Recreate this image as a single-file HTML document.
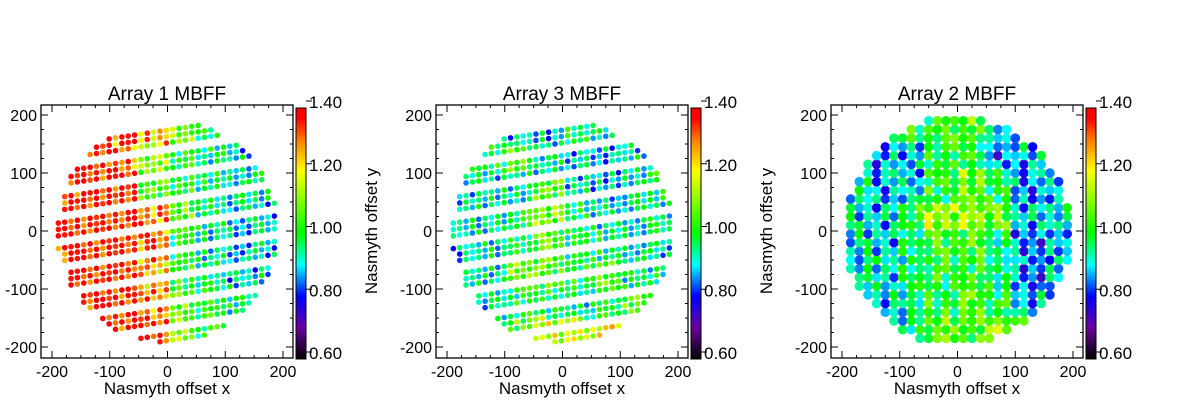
<!DOCTYPE html>
<html><head><meta charset="utf-8"><style>
body{margin:0;background:#fff;}
svg{display:block;font-family:"Liberation Sans",sans-serif;}
text{fill:#000;}
</style></head><body>
<svg id="c" width="1200" height="400" viewBox="0 0 1200 400">
<defs><linearGradient id="cb" x1="0" y1="1" x2="0" y2="0">
<stop offset="0" stop-color="#000000"/><stop offset="0.125" stop-color="#6a00a0"/>
<stop offset="0.25" stop-color="#0000ff"/><stop offset="0.375" stop-color="#00ffff"/>
<stop offset="0.5" stop-color="#00ff00"/><stop offset="0.75" stop-color="#ffff00"/>
<stop offset="0.87" stop-color="#ff8000"/><stop offset="0.96" stop-color="#ff0000"/><stop offset="1" stop-color="#ff0000"/>
</linearGradient></defs>
</svg>
<script>
// value maps: 8 rows (y 200..-200) x 8 cols (x -200..200)
const titles = ["Array 1 MBFF","Array 3 MBFF","Array 2 MBFF"];
const xTicks = [-200,-100,0,100,200];
const yTicks = [-200,-100,0,100,200];
const cbTicks = [0.6,0.8,1.0,1.2,1.4];
const map1 = [
 [1.36,1.36,1.36,1.25,1.10,0.97,0.92,0.90],
 [1.36,1.36,1.30,1.10,1.00,0.95,0.90,0.90],
 [1.36,1.36,1.36,1.05,1.00,0.95,0.92,0.95],
 [1.36,1.36,1.36,1.30,1.05,0.95,0.90,0.90],
 [1.36,1.36,1.36,1.30,1.00,0.92,0.88,0.90],
 [1.36,1.36,1.36,1.25,1.00,0.95,0.90,0.90],
 [1.36,1.36,1.36,1.30,1.05,1.00,0.95,0.92],
 [1.36,1.36,1.36,1.36,1.10,1.00,0.92,0.90]];
const map3 = [
 [0.92,0.92,0.90,0.88,0.98,0.92,0.92,0.92],
 [0.98,0.98,1.05,0.92,0.90,0.88,0.92,0.92],
 [0.92,0.92,0.92,1.05,0.92,0.88,0.92,0.98],
 [0.92,0.92,1.00,1.10,0.95,0.92,0.92,0.95],
 [0.90,0.92,0.98,1.05,0.98,0.95,0.92,0.92],
 [0.92,0.92,1.10,1.05,0.98,1.05,0.95,0.95],
 [0.92,0.92,0.98,0.98,0.92,0.98,1.05,1.00],
 [0.92,0.92,1.05,1.15,1.15,1.20,1.10,1.00]];
const map2 = [
 [0.92,0.92,1.00,1.02,1.05,0.88,0.88,0.92],
 [0.92,0.86,0.88,1.00,1.00,0.84,0.88,0.90],
 [0.92,0.88,0.90,1.00,1.08,0.98,0.86,0.88],
 [0.90,0.90,1.00,1.12,1.12,1.05,0.90,0.92],
 [0.90,0.90,0.96,1.02,1.05,0.95,0.84,0.88],
 [0.90,0.92,0.96,1.00,1.02,0.96,0.84,0.90],
 [0.88,0.90,0.94,1.00,1.05,1.00,0.88,0.90],
 [0.90,0.92,0.94,1.05,1.05,1.10,1.00,0.92]];
const jitter = [0,-0.07,0.05,0.08,-0.03,0.02,-0.1,0.06,0,0.03,-0.05,0.1,-0.08,0.04,-0.02,0.07,-0.06];
const maps = [map1,map3,map2];

const NS="http://www.w3.org/2000/svg";
const svg=document.getElementById('c');
function mk(t,a,p){const e=document.createElementNS(NS,t);for(const k in a)e.setAttribute(k,a[k]);(p||svg).appendChild(e);return e;}
const stops=[[0.6,[0,0,0]],[0.7,[106,0,160]],[0.8,[0,0,255]],[0.9,[0,255,255]],[1.0,[0,255,0]],[1.2,[255,255,0]],[1.3,[255,128,0]],[1.37,[255,0,0]],[1.4,[255,0,0]]];
function cmap(v){v=Math.max(0.6,Math.min(1.4,v));for(let i=1;i<stops.length;i++){if(v<=stops[i][0]){const a=stops[i-1],b=stops[i],t=(v-a[0])/(b[0]-a[0]);const c=a[1].map((q,j)=>Math.round(q+(b[1][j]-q)*t));return `rgb(${c})`;}}return 'red';}

const OX=[0,395,790];
OX.forEach((ox,pi)=>{
  const g=mk('g',{});
  
  
  const L=41+ox,R=293+ox,T=105,B=358;
  const sx=v=>167.5+ox+v*0.5775, sy=v=>231-v*0.58;
  const t=mk('text',{x:(L+R)/2,y:100,'font-size':19,'text-anchor':'middle'},g);t.textContent=titles[pi];
  
  const m=maps[pi];const big=pi==2;
  const pitch=big?15:11, rowp=big?15:11, slope=big?0:0.15, rr=big?4.8:2.8, rad=big?197:192;
  let k=0;
  for(let yr=-200;yr<=200;yr+=rowp){
    const ri=Math.round((yr+200)/rowp);
    if(!big && ri%4==3) continue;
    for(let xx=-200;xx<=200;xx+=pitch){
      const yy=yr+slope*xx;
      if(xx*xx+yy*yy>rad*rad) continue;
      const row=Math.min(7,Math.max(0,Math.floor((200-yy)/50))), col=Math.min(7,Math.max(0,Math.floor((xx+200)/50)));
      const v=m[row][col]+jitter[k%jitter.length];k++;
      const c=mk('circle',{cx:sx(xx),cy:sy(yy),r:rr,fill:cmap(v)},g);
      
    }
  }
  const box=mk('rect',{x:L,y:T,width:R-L,height:B-T,fill:'none',stroke:'#000','stroke-width':1.3},g);
  
  for(let v=-225;v<=225;v+=25){const X=sx(v);if(X<L||X>R)continue;const len=v%100==0?7:3;
    mk('line',{x1:X,x2:X,y1:B,y2:B-len,stroke:'#000'},g);mk('line',{x1:X,x2:X,y1:T,y2:T+len,stroke:'#000'},g);}
  for(let v=-225;v<=225;v+=25){const Y=sy(v);if(Y<T||Y>B)continue;const len=v%100==0?7:3;
    mk('line',{x1:L,x2:L+len,y1:Y,y2:Y,stroke:'#000'},g);mk('line',{x1:R,x2:R-len,y1:Y,y2:Y,stroke:'#000'},g);}
  xTicks.forEach(v=>{const e=mk('text',{x:sx(v),y:377,'font-size':16,'text-anchor':'middle'},g);e.textContent=v;
    });
  yTicks.forEach(v=>{const e=mk('text',{x:L-4,y:sy(v)+6,'font-size':16,'text-anchor':'end'},g);e.textContent=v;
    });
  const xl=mk('text',{x:(L+R)/2,y:394,'font-size':17,'text-anchor':'middle'},g);xl.textContent='Nasmyth offset x';
  
  const cbL=R+3,cbR=R+13,cbT=108,cbB=359;
  const cb=mk('rect',{x:cbL,y:cbT,width:cbR-cbL,height:cbB-cbT,fill:'url(#cb)',stroke:'#000','stroke-width':1},g);
  
  const cy=v=>352-(v-0.6)/0.8*251;
  cbTicks.forEach(v=>{const Y=cy(v);mk('line',{x1:cbR,x2:cbR+6,y1:Y,y2:Y,stroke:'#000'},g);
    const e=mk('text',{x:cbR+3,y:Y+7,'font-size':17},g);e.textContent=v.toFixed(2);
    });
  if(pi<2){const yl=mk('text',{x:0,y:0,'font-size':17,'text-anchor':'middle',transform:`translate(${ox+377},231) rotate(-90)`},g);
    yl.textContent='Nasmyth offset y';}
});
</script>
</body></html>
